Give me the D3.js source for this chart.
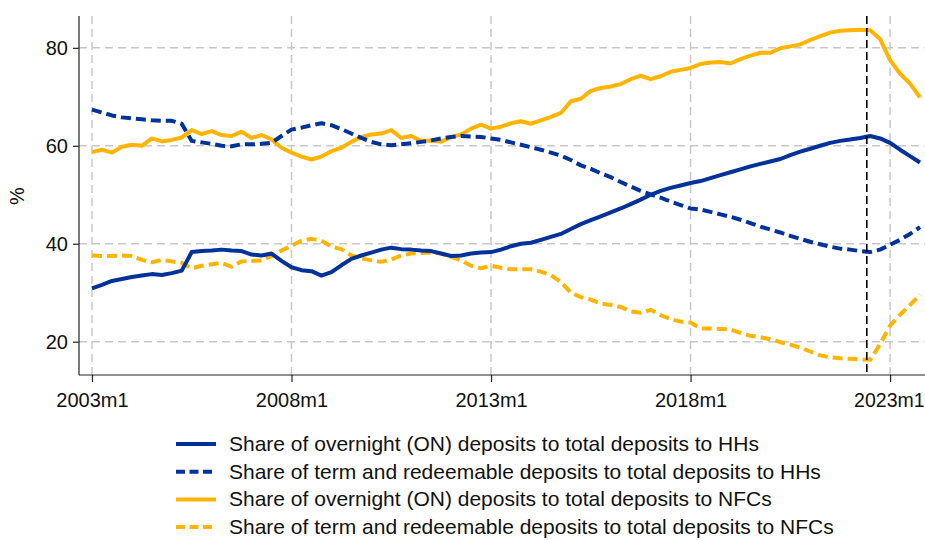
<!DOCTYPE html>
<html>
<head>
<meta charset="utf-8">
<script src="https://cdn.jsdelivr.net/npm/d3@7"></script>
<style>
  body { margin: 0; background: #fff; }
  text { font-family: "Liberation Sans", Arial, sans-serif; fill: #111; }
</style>
</head>
<body>
<script>
// quarterly readings, 2003m1 .. 2023m10 (one value every 3 months)
var startYear = 2003;
var stepMonths = 3;

var onHH = [30.9, 31.6, 32.4, 32.8, 33.2, 33.5, 33.8, 33.6, 34.0, 34.5,
    38.3, 38.5, 38.6, 38.8, 38.6, 38.5, 37.8, 37.6, 38.0, 36.5,
    35.2, 34.6, 34.4, 33.5, 34.2, 35.6, 36.9, 37.6, 38.2, 38.8,
    39.2, 38.9, 38.8, 38.6, 38.5, 38.0, 37.5, 37.6, 38.0, 38.2,
    38.3, 38.8, 39.5, 40.0, 40.2, 40.8, 41.4, 42.0, 43.0, 44.0,
    44.8, 45.6, 46.4, 47.2, 48.1, 49.0, 50.0, 50.8, 51.4, 51.9,
    52.4, 52.8, 53.4, 54.0, 54.6, 55.2, 55.8, 56.3, 56.8, 57.3,
    58.1, 58.8, 59.4, 60.0, 60.6, 61.0, 61.3, 61.6, 62.0, 61.5,
    60.6, 59.2, 57.9, 56.6];

var termHH = [67.4, 66.8, 66.2, 65.8, 65.6, 65.4, 65.2, 65.1, 65.1, 64.5,
    61.0, 60.7, 60.4, 60.0, 59.9, 60.3, 60.3, 60.4, 60.6, 62.0,
    63.3, 63.7, 64.2, 64.6, 64.2, 63.4, 62.5, 61.6, 60.8, 60.3,
    60.1, 60.3, 60.5, 60.8, 61.1, 61.5, 61.8, 62.0, 61.9, 61.8,
    61.5, 61.2, 60.7, 60.2, 59.7, 59.2, 58.6, 58.0, 57.1, 56.0,
    55.3, 54.4, 53.6, 52.6, 51.7, 50.8, 50.1, 49.4, 48.6, 47.9,
    47.2, 47.0, 46.5, 46.0, 45.5, 44.9, 44.2, 43.5, 42.9, 42.3,
    41.6, 41.0, 40.4, 39.9, 39.4, 39.0, 38.8, 38.5, 38.3, 38.8,
    39.8, 40.8, 42.0, 43.4];

var onNFC = [58.7, 59.2, 58.6, 59.8, 60.2, 60.0, 61.5, 60.9, 61.2, 61.7,
    63.2, 62.4, 63.0, 62.2, 62.0, 62.9, 61.6, 62.2, 61.3, 59.6,
    58.6, 57.8, 57.2, 57.8, 58.9, 59.6, 60.8, 61.8, 62.3, 62.5,
    63.2, 61.6, 62.0, 61.0, 61.1, 60.8, 61.8, 62.3, 63.5, 64.3,
    63.5, 63.9, 64.6, 65.0, 64.5, 65.2, 65.9, 66.7, 69.1, 69.6,
    71.2, 71.8, 72.1, 72.6, 73.6, 74.3, 73.6, 74.2, 75.1, 75.5,
    75.9, 76.7, 77.0, 77.1, 76.8, 77.7, 78.4, 79.0, 79.0, 79.9,
    80.3, 80.7, 81.6, 82.4, 83.1, 83.5, 83.6, 83.7, 83.6, 81.8,
    77.5, 74.7, 72.7, 69.9];

var termNFC = [37.6, 37.5, 37.5, 37.6, 37.5, 36.7, 36.2, 36.7, 36.4, 36.1,
    35.0, 35.5, 35.8, 36.1, 35.3, 36.4, 36.5, 36.6, 37.5, 38.6,
    39.6, 40.6, 41.0, 40.6, 39.4, 38.9, 37.6, 37.0, 36.6, 36.3,
    36.8, 37.6, 38.0, 38.1, 38.2, 38.0, 37.3, 36.6, 35.5, 35.0,
    35.5, 35.1, 34.8, 34.8, 34.8, 34.3, 33.6, 32.2, 30.0, 29.1,
    28.6, 27.8, 27.5, 27.1, 26.2, 25.9, 26.5, 25.4, 24.6, 24.1,
    23.9, 22.7, 22.7, 22.6, 22.5, 21.8, 21.2, 20.9, 20.5, 19.9,
    19.4, 18.8, 18.0, 17.2, 16.8, 16.6, 16.5, 16.4, 16.3, 19.5,
    23.3, 25.5, 27.5, 29.6];

var seriesNames = [
    "Share of overnight (ON) deposits to total deposits to HHs",
    "Share of term and redeemable deposits to total deposits to HHs",
    "Share of overnight (ON) deposits to total deposits to NFCs",
    "Share of term and redeemable deposits to total deposits to NFCs"];
var xTickMonths = [0, 60, 120, 180, 240];   // months after 2003m1
var xTickLabels = ["2003m1", "2008m1", "2013m1", "2018m1", "2023m1"];
var yTicks = [20, 40, 60, 80];
var markerMonth = 233;   // 2022m6

var blue = "#003299", yellow = "#ffb400";
var styles = [
    {color: blue, dash: null},
    {color: blue, dash: "10,5"},
    {color: yellow, dash: null},
    {color: yellow, dash: "10,5"}];

function drawChart () {
    var width = 925, height = 540;
    var left = 79, right = 925, top = 16, bottom = 375;

    var svg = d3.select("body").append("svg")
        .attr("width", width)
        .attr("height", height);

    var x = d3.scaleLinear().domain([-3.9, 250.5]).range([left, right]);
    var y = d3.scaleLinear().domain([13.2, 86.5]).range([bottom, top]);

    // grid
    var grid = svg.append("g")
        .attr("stroke", "#c8c8c8")
        .attr("stroke-width", 1.5)
        .attr("stroke-dasharray", "8,5");
    grid.selectAll(".gy").data(yTicks).enter().append("line")
        .attr("x1", left).attr("x2", right)
        .attr("y1", function(d) { return y(d); })
        .attr("y2", function(d) { return y(d); });
    grid.selectAll(".gx").data(xTickMonths).enter().append("line")
        .attr("x1", function(d) { return x(d); })
        .attr("x2", function(d) { return x(d); })
        .attr("y1", top).attr("y2", bottom);

    // axes
    var yAxis = svg.append("g")
        .attr("transform", "translate(" + left + ",0)")
        .call(d3.axisLeft(y).tickValues(yTicks).tickSize(6).tickPadding(5));
    var xAxis = svg.append("g")
        .attr("transform", "translate(0," + bottom + ")")
        .call(d3.axisBottom(x).tickValues(xTickMonths).tickSize(7).tickPadding(11)
            .tickFormat(function(d, i) { return xTickLabels[i]; }));
    [yAxis, xAxis].forEach(function (ax) {
        ax.select(".domain").remove();
        ax.selectAll("line").attr("stroke", "#222").attr("stroke-width", 1.2);
        ax.selectAll("text")
            .attr("font-family", "Liberation Sans, Arial, sans-serif")
            .attr("font-size", 20).attr("fill", "#111");
    });
    // the last label sits on the right edge; keep it inside
    xAxis.selectAll(".tick:last-of-type text")
        .attr("text-anchor", "end").attr("dx", "34").attr("font-size", 19.5);
    svg.append("line").attr("x1", left).attr("x2", left)
        .attr("y1", top).attr("y2", bottom)
        .attr("stroke", "#222").attr("stroke-width", 1.2);
    svg.append("line").attr("x1", left).attr("x2", right)
        .attr("y1", bottom).attr("y2", bottom)
        .attr("stroke", "#222").attr("stroke-width", 1.2);

    svg.append("text")
        .attr("transform", "translate(24,196) rotate(-90)")
        .attr("text-anchor", "middle")
        .attr("font-size", 20)
        .text("%");

    // lines, yellow under blue
    var allSeries = [onHH, termHH, onNFC, termNFC];
    var line = d3.line()
        .x(function(d, i) { return x(i * stepMonths); })
        .y(function(d) { return y(d); });
    var drawOrder = [2, 3, 0, 1];
    drawOrder.forEach(function (k) {
        svg.append("path")
            .datum(allSeries[k])
            .attr("fill", "none")
            .attr("stroke", styles[k].color)
            .attr("stroke-width", 4)
            .attr("stroke-linejoin", "round")
            .attr("stroke-dasharray", styles[k].dash)
            .attr("d", line);
    });

    // marker line
    svg.append("line")
        .attr("x1", x(markerMonth)).attr("x2", x(markerMonth))
        .attr("y1", top).attr("y2", bottom)
        .attr("stroke", "#000").attr("stroke-width", 1.6)
        .attr("stroke-dasharray", "8,4");

    // legend
    var legend = svg.append("g");
    var rows = legend.selectAll("g").data(seriesNames).enter().append("g")
        .attr("transform", function(d, i) { return "translate(176," + (444 + i * 27.7) + ")"; });
    rows.append("line")
        .attr("x1", 0).attr("x2", 40)
        .attr("stroke", function(d, i) { return styles[i].color; })
        .attr("stroke-width", 4)
        .attr("stroke-dasharray", function(d, i) { return styles[i].dash ? "9,4.5" : null; });
    rows.append("text")
        .attr("x", 53).attr("dy", "0.33em")
        .attr("font-size", 21)
        .text(function(d) { return d; });
}

drawChart();
</script>
</body>
</html>
